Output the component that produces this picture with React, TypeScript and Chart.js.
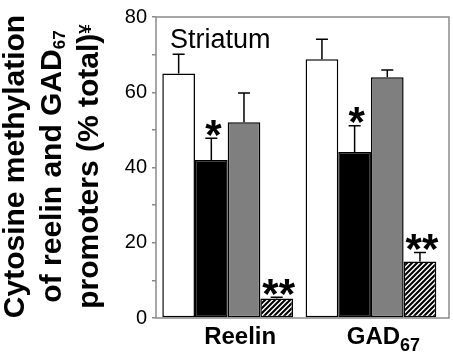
import React, { useEffect, useRef } from 'react';
import { Chart, registerables } from 'chart.js';

Chart.register(...registerables);

// ---- data ----
const categories = ['Reelin', 'GAD'];
const categorySubs = ['', '67'];
const seriesNames = ['Group 1', 'Group 2', 'Group 3', 'Group 4'];
const whiteValues = [65, 68.8];
const whiteErrors = [5.1, 5.3];
const blackValues = [42, 44.1];
const blackErrors = [5.8, 7.0];
const grayValues = [52, 64];
const grayErrors = [7.8, 1.9];
const hatchValues = [5.2, 15];
const hatchErrors = [0.3, 2.4];
const whiteMarks = ['', ''];
const blackMarks = ['*', '*'];
const grayMarks = ['', ''];
const hatchMarks = ['**', '**'];
const yMin = 0;
const yMax = 80;
const yMinorStep = 10;
const yLabelStep = 20;
const panelLabel = 'Striatum';
const yTitleLines = [
  [{ t: 'Cytosine methylation', k: 'n' }],
  [{ t: 'of reelin and GAD', k: 'n' }, { t: '67', k: 'sub' }],
  [{ t: 'promoters (% total)', k: 'n' }, { t: '¥', k: 'sup' }],
];

const FONT = '"Liberation Sans", Arial, Helvetica, sans-serif';
const FRAME = '#8a8a8a';

function makeHatch(): CanvasPattern | string {
  const c = document.createElement('canvas');
  const s = 5;
  c.width = s;
  c.height = s;
  const g = c.getContext('2d');
  if (!g) return '#888';
  g.fillStyle = '#fff';
  g.fillRect(0, 0, s, s);
  g.strokeStyle = '#000';
  g.lineWidth = 2.1;
  g.beginPath();
  g.moveTo(-1, s + 1);
  g.lineTo(s + 1, -1);
  g.moveTo(-1, 1);
  g.lineTo(1, -1);
  g.moveTo(s - 1, s + 1);
  g.lineTo(s + 1, s - 1);
  g.stroke();
  return g.createPattern(c, 'repeat') || '#888';
}

function drawSegments(ctx: CanvasRenderingContext2D, segs: { t: string; k: string }[], cx: number, baseY: number, size: number, smallSize: number, subOff: number, supOff: number) {
  const fonts = segs.map((s) => (s.k === 'n' ? `bold ${size}px ${FONT}` : `bold ${smallSize}px ${FONT}`));
  let total = 0;
  const widths = segs.map((s, i) => {
    ctx.font = fonts[i];
    const w = ctx.measureText(s.t).width;
    total += w;
    return w;
  });
  let x = cx - total / 2;
  ctx.textAlign = 'left';
  ctx.textBaseline = 'alphabetic';
  segs.forEach((s, i) => {
    ctx.font = fonts[i];
    const dy = s.k === 'sub' ? subOff : s.k === 'sup' ? supOff : 0;
    ctx.fillText(s.t, x, baseY + dy);
    x += widths[i];
  });
}

const framePlugin = {
  id: 'frame',
  beforeDatasetsDraw(chart: any) {
    const { ctx, chartArea } = chart;
    ctx.save();
    ctx.strokeStyle = FRAME;
    ctx.lineWidth = 1.5;
    ctx.strokeRect(chartArea.left, chartArea.top, chartArea.right + 6.4 - chartArea.left, chartArea.bottom - chartArea.top);
    ctx.restore();
  },
};

const annotatePlugin = {
  id: 'annotate',
  afterDatasetsDraw(chart: any) {
    const { ctx, chartArea } = chart;
    const y = chart.scales.y;
    const x = chart.scales.x;
    ctx.save();
    // error bars and significance marks
    chart.data.datasets.forEach((ds: any, di: number) => {
      const meta = chart.getDatasetMeta(di);
      meta.data.forEach((el: any, i: number) => {
        const top = y.getPixelForValue(ds.data[i] + ds.errors[i]);
        ctx.strokeStyle = '#000';
        ctx.lineWidth = 1.5;
        ctx.beginPath();
        ctx.moveTo(el.x, el.y);
        ctx.lineTo(el.x, top);
        ctx.moveTo(el.x - 6, top);
        ctx.lineTo(el.x + 6, top);
        ctx.stroke();
        const m = ds.marks[i];
        if (m) {
          ctx.font = `bold 42px ${FONT}`;
          ctx.fillStyle = '#000';
          ctx.textAlign = 'center';
          ctx.textBaseline = 'alphabetic';
          const mt = ctx.measureText(m);
          const mid = (mt.actualBoundingBoxAscent - mt.actualBoundingBoxDescent) / 2;
          ctx.fillText(m, el.x + 2, top - 10.5 + mid);
        }
      });
    });
    // panel label
    ctx.fillStyle = '#000';
    ctx.font = `27px ${FONT}`;
    ctx.textAlign = 'left';
    ctx.textBaseline = 'alphabetic';
    ctx.fillText(panelLabel, chartArea.left + 14, chartArea.top + 31);
    // category labels
    categories.forEach((c, i) => {
      const cx = x.getPixelForValue(i) + 12.5;
      const segs = [{ t: c, k: 'n' }];
      if (categorySubs[i]) segs.push({ t: categorySubs[i], k: 'sub' });
      drawSegments(ctx, segs, cx, chartArea.bottom + 26, 24, 18, 7, -8);
    });
    // y title
    const cy = (chartArea.top + chartArea.bottom) / 2 - 1;
    const baselines = [24, 61, 98];
    yTitleLines.forEach((line, li) => {
      ctx.save();
      ctx.translate(baselines[li], cy);
      ctx.rotate(-Math.PI / 2);
      drawSegments(ctx, line, 0, 0, 30, 17, 4, -7);
      ctx.restore();
    });
    ctx.restore();
  },
};

export default function App() {
  const ref = useRef<HTMLCanvasElement | null>(null);
  useEffect(() => {
    document.body.style.margin = '0';
    if (!ref.current) return;
    const hatch = makeHatch();
    const common = { borderColor: '#000', borderWidth: 1.5, borderSkipped: false, categoryPercentage: 0.912, barPercentage: 1 };
    const chart = new Chart(ref.current, {
      type: 'bar',
      data: {
        labels: categories,
        datasets: [
          { label: seriesNames[0], data: whiteValues, errors: whiteErrors, marks: whiteMarks, backgroundColor: '#ffffff', ...common },
          { label: seriesNames[1], data: blackValues, errors: blackErrors, marks: blackMarks, backgroundColor: '#000000', ...common },
          { label: seriesNames[2], data: grayValues, errors: grayErrors, marks: grayMarks, backgroundColor: '#7f7f7f', ...common },
          { label: seriesNames[3], data: hatchValues, errors: hatchErrors, marks: hatchMarks, backgroundColor: hatch, ...common },
        ] as any,
      },
      options: {
        animation: false,
        responsive: false,
        layout: { padding: { left: 0, right: 10.4, top: 12, bottom: 0 } },
        plugins: { legend: { display: false }, tooltip: { enabled: false } },
        scales: {
          x: {
            grid: { display: false },
            border: { display: false },
            ticks: { display: false },
            afterFit: (s: any) => { s.height = 39; },
          },
          y: {
            min: yMin,
            max: yMax,
            grid: { drawOnChartArea: false, drawTicks: true, tickLength: 4, color: FRAME, lineWidth: 1.5 },
            border: { display: false },
            ticks: {
              stepSize: yMinorStep,
              autoSkip: false,
              padding: 5,
              color: '#000',
              font: { family: FONT, size: 20 },
              callback: (v: any) => (Number(v) % yLabelStep === 0 ? String(v) : ''),
            },
            afterFit: (s: any) => { s.width = 156; },
          },
        },
      } as any,
      plugins: [framePlugin, annotatePlugin],
    });
    return () => chart.destroy();
  }, []);
  return <canvas ref={ref} width={453} height={357} style={{ display: 'block' }} />;
}
